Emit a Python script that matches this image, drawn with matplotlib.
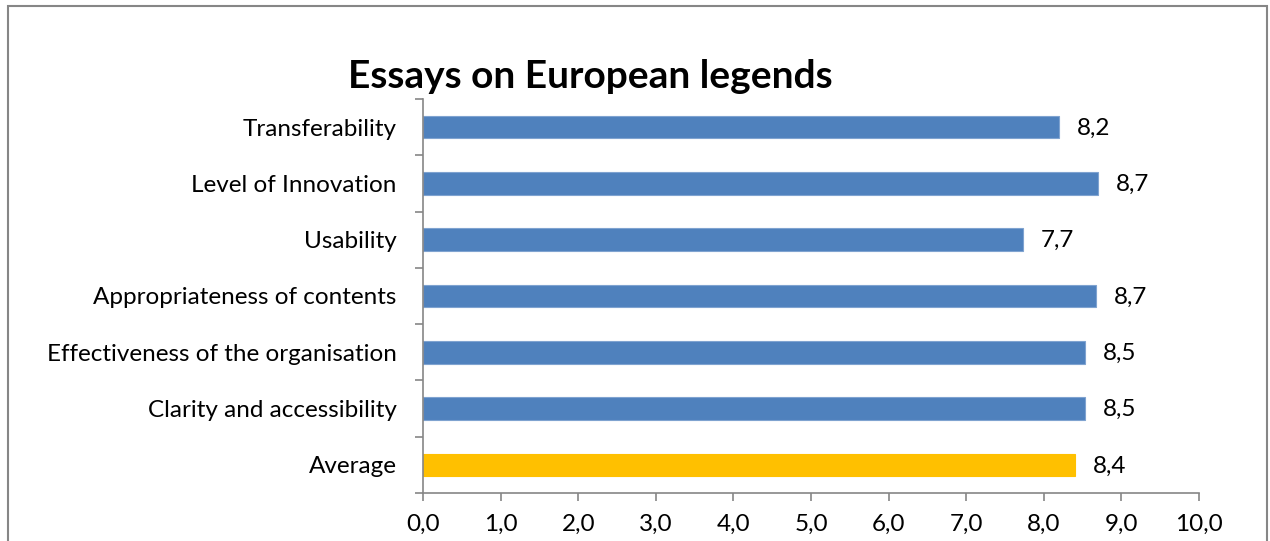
import matplotlib
matplotlib.use("Agg")
import matplotlib.pyplot as plt
from matplotlib.patches import Rectangle
from matplotlib.ticker import FixedLocator

categories = ["Average", "Clarity and accessibility", "Effectiveness of the organisation",
              "Appropriateness of contents", "Usability", "Level of Innovation", "Transferability"]
values = [8.40, 8.53, 8.53, 8.67, 7.73, 8.70, 8.20]
colors = ["#FFC000", "#4F81BD", "#4F81BD", "#4F81BD", "#4F81BD", "#4F81BD", "#4F81BD"]
xticks = [0, 1, 2, 3, 4, 5, 6, 7, 8, 9, 10]
title = "Essays on European legends"

plt.rcParams['font.family'] = ['Lato', 'DejaVu Sans']
W, H = 1270, 541
fig = plt.figure(figsize=(W / 100, H / 100), dpi=100)
fig.patch.set_facecolor("white")

# outer chart frame
fig.add_artist(Rectangle((7.5 / W, -0.05), (1266.5 - 7.5) / W, 1.05 - 6 / H,
                         transform=fig.transFigure, fill=False, edgecolor="#868686", lw=1.5))

ax = fig.add_axes([423 / W, 1 - 493 / H, (1199 - 423) / W, (493 - 99) / H])
y = list(range(len(categories)))
ax.barh(y, values, height=0.4, color=colors, edgecolor=["#FFC000"] + ["#7FA3D0"] * 6, linewidth=0.8)
ax.set_xlim(0, 10)
ax.set_ylim(-0.5, len(categories) - 0.5)

for yi, v in zip(y, values):
    ax.text(v + 0.23, yi - 0.02, f"{v:.1f}".replace(".", ","), va="center", ha="left", fontsize=17.5, color="black")

ax.set_yticks(y)
ax.set_yticklabels(categories, fontsize=17.5)
ax.yaxis.set_minor_locator(FixedLocator([i - 0.5 for i in range(len(categories) + 1)]))
ax.tick_params(axis="y", which="major", length=0, pad=19)
ax.tick_params(axis="y", which="minor", length=6, color="#868686", width=1.2)

ax.set_xticks(xticks)
ax.set_xticklabels([f"{t:.1f}".replace(".", ",") for t in xticks], fontsize=17.5)
ax.tick_params(axis="x", length=6, color="#868686", width=1.2, pad=9)

for s in ["top", "right"]:
    ax.spines[s].set_visible(False)
for s in ["left", "bottom"]:
    ax.spines[s].set_color("#868686")
    ax.spines[s].set_linewidth(1.2)

fig.text(590 / W, 1 - 76 / H, title, ha="center", va="center", fontsize=28, fontweight="bold")

fig.savefig("out.png", dpi=100)
